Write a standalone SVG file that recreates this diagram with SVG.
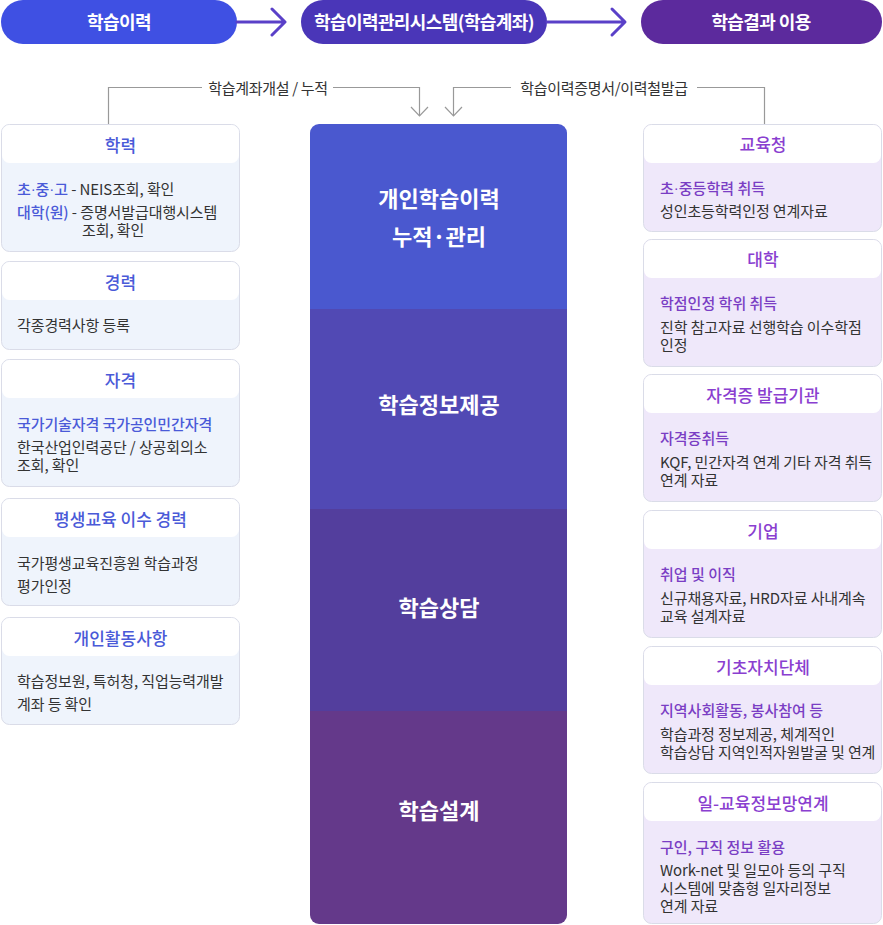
<svg xmlns="http://www.w3.org/2000/svg" width="883" height="925" viewBox="0 0 883 925">
<defs>
<style>
text{font-family:"Noto Sans CJK KR","Noto Sans",sans-serif;dominant-baseline:central}
.pill{font-size:18px;font-weight:bold;fill:#fff;text-anchor:middle;letter-spacing:-0.6px}
.lbl{font-size:15px;fill:#333;text-anchor:middle;letter-spacing:-0.3px}
.ct{font-size:22px;font-weight:bold;fill:#fff;text-anchor:middle}
.box{stroke:#DADCE8;stroke-width:1}
.lb{fill:#EFF4FC}
.rb{fill:#EFE8FA}
.hd{fill:#fff}
.lt{font-size:17px;font-weight:500;fill:#4A5AD8;text-anchor:middle}
.rt{font-size:17px;font-weight:500;fill:#8A3FD0;text-anchor:middle}
.bt{font-size:15px;fill:#333;letter-spacing:-0.1px}
.hl{fill:#4A5AD8;font-weight:500}
.hr{font-size:15px;fill:#7A3EC4;font-weight:500;letter-spacing:0px}
.dot{font-family:"Liberation Sans",sans-serif}
.con{fill:none;stroke:#999;stroke-width:1.2}
.arr{fill:none;stroke:#5A40C8;stroke-width:3;stroke-linecap:round;stroke-linejoin:round}
</style>
</defs>

<g id="pill1">
<rect x="1" y="0" width="236" height="44" rx="22" fill="#3F50E3"/>
<text class="pill" x="119" y="21">학습이력</text>
</g>
<g id="pill2">
<rect x="301" y="0" width="246" height="44" rx="22" fill="#4A36B8"/>
<text class="pill" x="424" y="21">학습이력관리시스템(학습계좌)</text>
</g>
<g id="pill3">
<rect x="641" y="0" width="241" height="44" rx="22" fill="#5C2A9D"/>
<text class="pill" x="761" y="21">학습결과 이용</text>
</g>

<g id="connectors">
<path class="arr" d="M237 22 H284 M272 9 L285 22 L272 35"/>
<path class="arr" d="M547 22 H624 M612 9 L625 22 L612 35"/>
<path class="con" d="M108.5 124 V87.5 H202 M333 87.5 H419.5 V116"/>
<path class="con" d="M411 107 L419.5 116 L428 107"/>
<path class="con" d="M764.5 124 V87.5 H697 M511 87.5 H453.5 V116"/>
<path class="con" d="M445 107 L453.5 116 L462 107"/>
<text class="lbl" x="268" y="87">학습계좌개설 / 누적</text>
<text class="lbl" x="604" y="87">학습이력증명서/이력철발급</text>
</g>

<g id="center-column">
<clipPath id="cc"><rect x="310" y="124" width="257" height="800" rx="9"/></clipPath>
<g clip-path="url(#cc)">
<rect x="310" y="124" width="257" height="185" fill="#4A58CF"/>
<rect x="310" y="309" width="257" height="200" fill="#5149B4"/>
<rect x="310" y="509" width="257" height="202" fill="#533E9D"/>
<rect x="310" y="711" width="257" height="213" fill="#64398A"/>
</g>
<text class="ct" x="439" y="197">개인학습이력</text>
<text class="ct" x="439" y="235">누적·관리</text>
<text class="ct" x="439" y="403">학습정보제공</text>
<text class="ct" x="439" y="606">학습상담</text>
<text class="ct" x="439" y="809">학습설계</text>
</g>

<g id="left-1">
<rect class="box lb" x="1.5" y="124.5" width="238" height="127" rx="8"/>
<rect class="hd" x="2" y="125" width="237" height="38" rx="7.5"/>
<text class="lt" x="120.5" y="144">학력</text>
<text class="bt" x="17" y="188"><tspan class="hl">초<tspan class="dot">·</tspan>중<tspan class="dot">·</tspan>고</tspan> - NEIS조회, 확인</text>
<text class="bt" x="17" y="211"><tspan class="hl">대학(원)</tspan> - 증명서발급대행시스템</text>
<text class="bt" x="82" y="229">조회, 확인</text>
</g>
<g id="left-2">
<rect class="box lb" x="1.5" y="261.5" width="238" height="88" rx="8"/>
<rect class="hd" x="2" y="262" width="237" height="38" rx="7.5"/>
<text class="lt" x="120.5" y="281">경력</text>
<text class="bt" x="17" y="324">각종경력사항 등록</text>
</g>
<g id="left-3">
<rect class="box lb" x="1.5" y="359.5" width="238" height="127" rx="8"/>
<rect class="hd" x="2" y="360" width="237" height="38" rx="7.5"/>
<text class="lt" x="120.5" y="379">자격</text>
<text class="bt hl" x="17" y="423">국가기술자격 국가공인민간자격</text>
<text class="bt" x="17" y="446">한국산업인력공단 / 상공회의소</text>
<text class="bt" x="17" y="464">조회, 확인</text>
</g>
<g id="left-4">
<rect class="box lb" x="1.5" y="498.5" width="238" height="107" rx="8"/>
<rect class="hd" x="2" y="499" width="237" height="38" rx="7.5"/>
<text class="lt" x="120.5" y="518">평생교육 이수 경력</text>
<text class="bt" x="17" y="562">국가평생교육진흥원 학습과정</text>
<text class="bt" x="17" y="585">평가인정</text>
</g>
<g id="left-5">
<rect class="box lb" x="1.5" y="617.5" width="238" height="107" rx="8"/>
<rect class="hd" x="2" y="618" width="237" height="38" rx="7.5"/>
<text class="lt" x="120.5" y="637">개인활동사항</text>
<text class="bt" x="17" y="680">학습정보원, 특허청, 직업능력개발</text>
<text class="bt" x="17" y="703">계좌 등 확인</text>
</g>

<g id="right-1">
<rect class="box rb" x="643.5" y="124.5" width="238" height="107" rx="8"/>
<rect class="hd" x="644" y="125" width="237" height="38" rx="7.5"/>
<text class="rt" x="763" y="143">교육청</text>
<text class="hr" x="660" y="187">초<tspan class="dot">·</tspan>중등학력 취득</text>
<text class="bt" x="660" y="210">성인초등학력인정 연계자료</text>
</g>
<g id="right-2">
<rect class="box rb" x="643.5" y="239.5" width="238" height="127" rx="8"/>
<rect class="hd" x="644" y="240" width="237" height="38" rx="7.5"/>
<text class="rt" x="763" y="258">대학</text>
<text class="hr" x="660" y="302">학점인정 학위 취득</text>
<text class="bt" x="660" y="326">진학 참고자료 선행학습 이수학점</text>
<text class="bt" x="660" y="344">인정</text>
</g>
<g id="right-3">
<rect class="box rb" x="643.5" y="374.5" width="238" height="127" rx="8"/>
<rect class="hd" x="644" y="375" width="237" height="38" rx="7.5"/>
<text class="rt" x="763" y="394">자격증 발급기관</text>
<text class="hr" x="660" y="437">자격증취득</text>
<text class="bt" x="660" y="461">KQF, 민간자격 연계 기타 자격 취득</text>
<text class="bt" x="660" y="479">연계 자료</text>
</g>
<g id="right-4">
<rect class="box rb" x="643.5" y="510.5" width="238" height="127" rx="8"/>
<rect class="hd" x="644" y="511" width="237" height="38" rx="7.5"/>
<text class="rt" x="763" y="530">기업</text>
<text class="hr" x="660" y="573">취업 및 이직</text>
<text class="bt" x="660" y="597">신규채용자료, HRD자료 사내계속</text>
<text class="bt" x="660" y="615">교육 설계자료</text>
</g>
<g id="right-5">
<rect class="box rb" x="643.5" y="646.5" width="238" height="127" rx="8"/>
<rect class="hd" x="644" y="647" width="237" height="38" rx="7.5"/>
<text class="rt" x="763" y="666">기초자치단체</text>
<text class="hr" x="660" y="709">지역사회활동, 봉사참여 등</text>
<text class="bt" x="660" y="733">학습과정 정보제공, 체계적인</text>
<text class="bt" x="660" y="751">학습상담 지역인적자원발굴 및 연계</text>
</g>
<g id="right-6">
<rect class="box rb" x="643.5" y="782.5" width="238" height="141" rx="8"/>
<rect class="hd" x="644" y="783" width="237" height="38" rx="7.5"/>
<text class="rt" x="763" y="802">일-교육정보망연계</text>
<text class="hr" x="660" y="846">구인, 구직 정보 활용</text>
<text class="bt" x="660" y="869">Work-net 및 일모아 등의 구직</text>
<text class="bt" x="660" y="887">시스템에 맞춤형 일자리정보</text>
<text class="bt" x="660" y="905">연계 자료</text>
</g>
</svg>
